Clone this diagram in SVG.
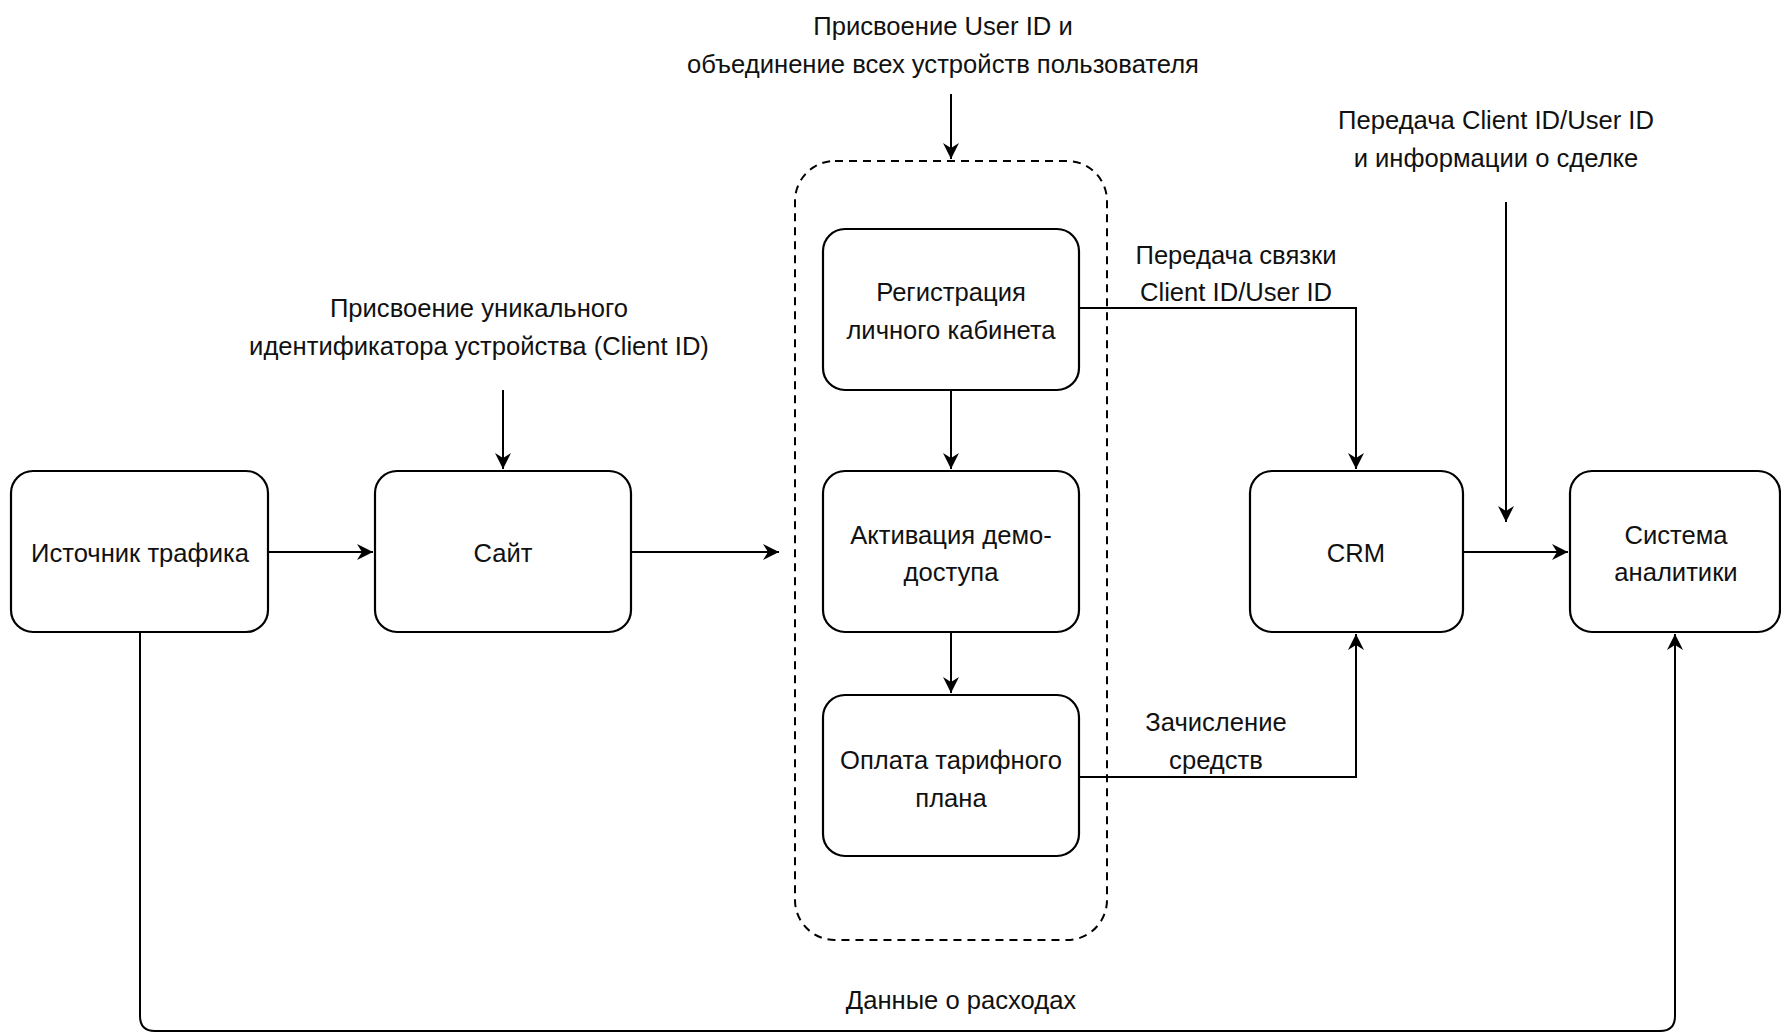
<svg xmlns="http://www.w3.org/2000/svg" width="1781" height="1034" viewBox="0 0 1781 1034">
<style>
.box{fill:#fff;stroke:#000;stroke-width:2.2}
.grp{fill:none;stroke:#000;stroke-width:2;stroke-dasharray:8 6}
.ln{fill:none;stroke:#000;stroke-width:2}
.t{font-family:"Liberation Sans",Arial,sans-serif;font-size:25.6px;fill:#111;text-anchor:middle;dominant-baseline:central}
</style>
<defs>
<marker id="ah" markerUnits="userSpaceOnUse" markerWidth="18" markerHeight="16" refX="16" refY="8" orient="auto">
<path d="M0,0 L16,8 L0,16 L5,8 z" fill="#000"/>
</marker>
</defs>
<rect width="1781" height="1034" fill="#fff"/>

<g id="group-container">
<rect class="grp" x="795" y="161" width="312" height="779" rx="40"/>
</g>

<g id="node-source">
<rect class="box" x="11" y="471" width="257" height="161" rx="22"/>
<text class="t" x="140" y="553">Источник трафика</text>
</g>
<g id="node-site">
<rect class="box" x="375" y="471" width="256" height="161" rx="22"/>
<text class="t" x="503" y="553">Сайт</text>
</g>
<g id="node-reg">
<rect class="box" x="823" y="229" width="256" height="161" rx="22"/>
<text class="t" x="951" y="292">Регистрация</text>
<text class="t" x="951" y="330">личного кабинета</text>
</g>
<g id="node-demo">
<rect class="box" x="823" y="471" width="256" height="161" rx="22"/>
<text class="t" x="951" y="535">Активация демо-</text>
<text class="t" x="951" y="572">доступа</text>
</g>
<g id="node-pay">
<rect class="box" x="823" y="695" width="256" height="161" rx="22"/>
<text class="t" x="951" y="760">Оплата тарифного</text>
<text class="t" x="951" y="798">плана</text>
</g>
<g id="node-crm">
<rect class="box" x="1250" y="471" width="213" height="161" rx="22"/>
<text class="t" x="1356" y="553">CRM</text>
</g>
<g id="node-analytics">
<rect class="box" x="1570" y="471" width="210" height="161" rx="22"/>
<text class="t" x="1676" y="535">Система</text>
<text class="t" x="1676" y="572">аналитики</text>
</g>

<g id="connectors">
<path class="ln" d="M268,552 H373" marker-end="url(#ah)"/>
<path class="ln" d="M631,552 H779" marker-end="url(#ah)"/>
<path class="ln" d="M951,94 V159" marker-end="url(#ah)"/>
<path class="ln" d="M503,390 V469" marker-end="url(#ah)"/>
<path class="ln" d="M951,390 V469" marker-end="url(#ah)"/>
<path class="ln" d="M951,632 V693" marker-end="url(#ah)"/>
<path class="ln" d="M1079,308 H1356 V469" marker-end="url(#ah)"/>
<path class="ln" d="M1079,777 H1356 V634" marker-end="url(#ah)"/>
<path class="ln" d="M1463,552 H1568" marker-end="url(#ah)"/>
<path class="ln" d="M1506,202 V522" marker-end="url(#ah)"/>
<path class="ln" d="M140,632 V1016 Q140,1031 155,1031 H1660 Q1675,1031 1675,1016 V634" marker-end="url(#ah)"/>
</g>

<g id="labels">
<text class="t" x="943" y="26">Присвоение User ID и</text>
<text class="t" x="943" y="64">объединение всех устройств пользователя</text>
<text class="t" x="479" y="308">Присвоение уникального</text>
<text class="t" x="479" y="346">идентификатора устройства (Client ID)</text>
<text class="t" x="1236" y="255">Передача связки</text>
<text class="t" x="1236" y="292">Client ID/User ID</text>
<text class="t" x="1496" y="120">Передача Client ID/User ID</text>
<text class="t" x="1496" y="158">и информации о сделке</text>
<text class="t" x="1216" y="722">Зачисление</text>
<text class="t" x="1216" y="760">средств</text>
<text class="t" x="961" y="1000">Данные о расходах</text>
</g>
</svg>
